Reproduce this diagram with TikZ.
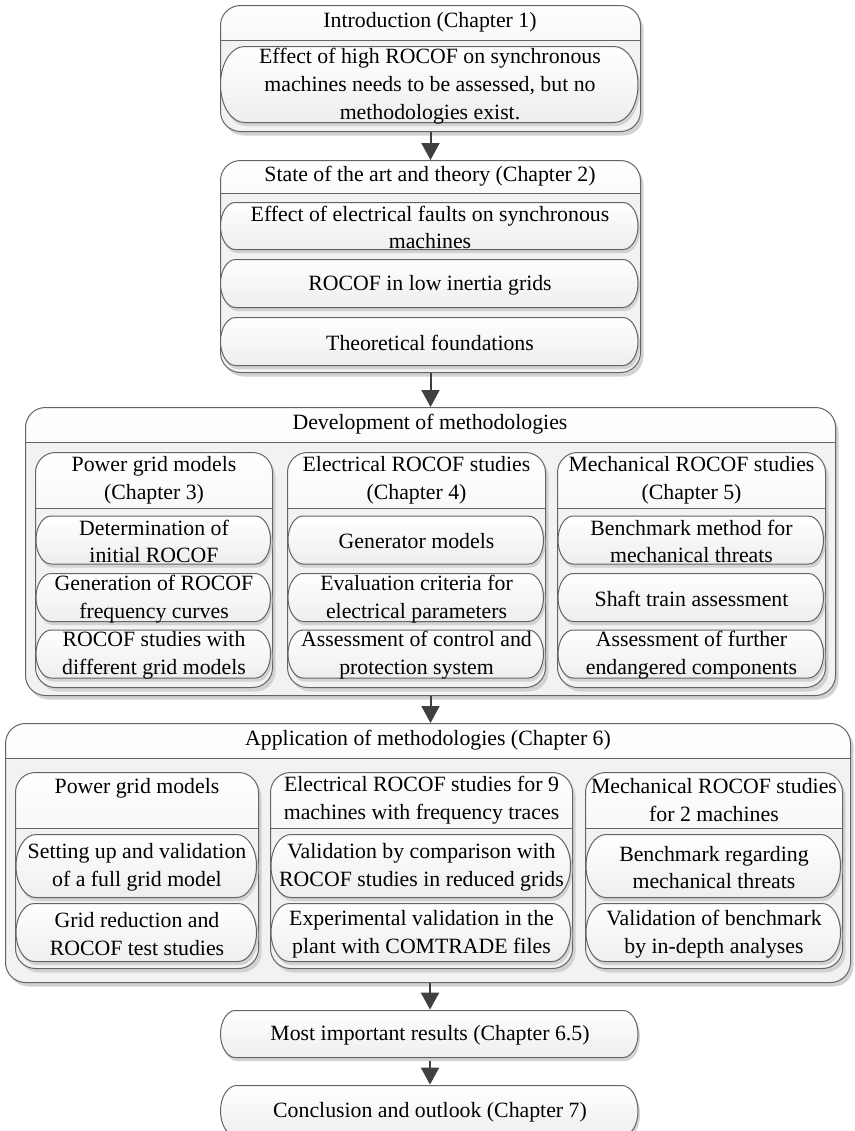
\documentclass[tikz,border=0pt]{standalone}
\usepackage{fontspec}
\setmainfont{Liberation Serif}
\usetikzlibrary{calc}
\usetikzlibrary{arrows.meta, shadows}
\definecolor{linegray}{RGB}{100, 100, 100}
\definecolor{bodygray}{RGB}{242, 242, 242}
\definecolor{bandgray}{RGB}{228, 228, 228}
\definecolor{pillgray}{RGB}{238, 238, 238}
\definecolor{shadowgray}{RGB}{210, 210, 210}
\definecolor{arrowgray}{RGB}{64, 64, 64}

\begin{document}
\begin{tikzpicture}[x=0.5pt, y=-0.5pt]%
        \tikzstyle{every node} = [font=\fontsize{10.9}{13.9}\selectfont]
        \tikzstyle{frame} = [draw=linegray, line width=0.5pt, rounded corners=10pt, fill=bodygray, anchor=north west, inner sep=0pt,
          drop shadow={shadow xshift=1.5pt, shadow yshift=-2pt, fill=shadowgray, opacity=1},
          path picture={\shade[sharp corners, top color=white, bottom color=bandgray] (path picture bounding box.north west) rectangle ([yshift=-#1]path picture bounding box.north east);
            \draw[linegray, line width=0.5pt] ([yshift=-#1]path picture bounding box.north west) -- ([yshift=-#1]path picture bounding box.north east);}]
        \tikzstyle{pill} = [rectangle, inner sep=0pt, align=center,
          path picture={
            \fill[shadowgray] let \p1=(path picture bounding box.south west), \p2=(path picture bounding box.north east),
                \n1={(\y2-\y1-1.5pt)/2}, \n2={0.62*\n1} in
              (\x1+1pt+\n2,\y2-1.5pt) -- (\x2-\n2,\y2-1.5pt) arc[start angle=90, end angle=-90, x radius=\n2, y radius=\n1]
              -- (\x1+1pt+\n2,\y1) arc[start angle=270, end angle=90, x radius=\n2, y radius=\n1] -- cycle;
            \draw[linegray, line width=0.5pt, top color=white, bottom color=pillgray] let \p1=(path picture bounding box.south west), \p2=(path picture bounding box.north east),
                \n1={(\y2-\y1-1.5pt)/2}, \n2={0.62*\n1} in
              (\x1+\n2+0.25pt,\y2-0.25pt) -- (\x2-1pt-\n2,\y2-0.25pt) arc[start angle=90, end angle=-90, x radius=\n2, y radius=\n1-0.25pt]
              -- (\x1+\n2+0.25pt,\y1+1.5pt+0.25pt) arc[start angle=270, end angle=90, x radius=\n2, y radius=\n1-0.25pt] -- cycle;}]
        \tikzstyle{flow} = [-{Triangle[length=8.5pt, width=9pt]}, arrowgray, line width=1pt]

        \useasboundingbox (0,0) rectangle (855,1131);

        \node[frame=17.5pt, minimum width=210pt, minimum height=63pt] (intro) at (220,5) {};
        \node (introhead) at (430,22.5) {Introduction (Chapter 1)};
        \node[pill, minimum width=210pt, minimum height=40pt] (intro1) at (430,86) {Effect of high ROCOF on synchronous\\machines needs to be assessed, but no\\methodologies exist.};

        \node[frame=16.5pt, minimum width=210pt, minimum height=106pt] (theory) at (220,160) {};
        \node (theoryhead) at (430,176.5) {State of the art and theory (Chapter 2)};
        \foreach \y/\h/\txt [count=\i] in {227.5/25.5pt/{Effect of electrical faults on synchronous\\machines}, 285/26pt/{ROCOF in low inertia grids}, 343/26pt/{Theoretical foundations}}
          \node[pill, minimum width=210pt, minimum height=\h] (theory\i) at (430,\y) {\txt};

        \node[frame=17.5pt, minimum width=405pt, minimum height=144pt] (devel) at (25,407) {};
        \node (develhead) at (430,424.5) {Development of methodologies};
        \foreach \x/\w/\txt [count=\i] in {35/118.5pt/{Power grid models\\(Chapter 3)}, 287/129pt/{Electrical ROCOF studies\\(Chapter 4)}, 557/134pt/{Mechanical ROCOF studies\\(Chapter 5)}}{
          \node[frame=28pt, minimum width=\w, minimum height=117.5pt] (devcol\i) at (\x,452) {};
          \node[align=center] (devhead\i) at ($(devcol\i.north)+(0,28)$) {\txt};
        }
        \foreach \y/\txt [count=\j] in {89.5/{Determination of\\initial ROCOF}, 147/{Generation of ROCOF\\frequency curves}, 203.5/{ROCOF studies with\\different grid models}}
          \node[pill, minimum width=118.5pt, minimum height=26pt] (devA\j) at ($(devcol1.north)+(0,\y)$) {\txt};
        \foreach \y/\txt [count=\j] in {89.5/{Generator models}, 147/{Evaluation criteria for\\electrical parameters}, 203.5/{Assessment of control and\\protection system}}
          \node[pill, minimum width=129pt, minimum height=26pt] (devB\j) at ($(devcol2.north)+(0,\y)$) {\txt};
        \foreach \y/\txt [count=\j] in {89.5/{Benchmark method for\\mechanical threats}, 147/{Shaft train assessment}, 203.5/{Assessment of further\\endangered components}}
          \node[pill, minimum width=134pt, minimum height=26pt] (devC\j) at ($(devcol3.north)+(0,\y)$) {\txt};

        \node[frame=17.5pt, minimum width=422.5pt, minimum height=129.5pt] (appl) at (5,723) {};
        \node (applhead) at (428,740.5) {Application of methodologies (Chapter 6)};
        \foreach \x/\w/\dy/\txt [count=\i] in {15/121.5pt/16/{Power grid models}, 270/151pt/28/{Electrical ROCOF studies for 9\\machines with frequency traces}, 585/128.5pt/28/{Mechanical ROCOF studies\\for 2 machines}}{
          \node[frame=28pt, minimum width=\w, minimum height=98pt] (appcol\i) at (\x,772) {};
          \node[align=center] (apphead\i) at ($(appcol\i.north)+(0,\dy)$) {\txt};
        }
        \foreach \y/\h/\txt [count=\j] in {95.5/33.5pt/{Setting up and validation\\of a full grid model}, 162/31pt/{Grid reduction and\\ROCOF test studies}}
          \node[pill, minimum width=121.5pt, minimum height=\h] (appA\j) at ($(appcol1.north)+(0,\y)$) {\txt};
        \foreach \y/\h/\txt [count=\j] in {95.5/33.5pt/{Validation by comparison with\\ROCOF studies in reduced grids}, 162/31pt/{Experimental validation in the\\plant with COMTRADE files}}
          \node[pill, minimum width=151pt, minimum height=\h] (appB\j) at ($(appcol2.north)+(0,\y)$) {\txt};
        \foreach \y/\h/\txt [count=\j] in {95.5/33.5pt/{Benchmark regarding\\mechanical threats}, 162/31pt/{Validation of benchmark\\by in-depth analyses}}
          \node[pill, minimum width=128.5pt, minimum height=\h] (appC\j) at ($(appcol3.north)+(0,\y)$) {\txt};

        \node[pill, minimum width=210pt, minimum height=25.5pt] (results) at (430,1035.5) {Most important results (Chapter 6.5)};
        \node[pill, minimum width=210pt, minimum height=27.5pt] (outlook) at (430,1112.5) {Conclusion and outlook (Chapter 7)};

        \draw[flow] (intro.south) -- (theory.north);
        \draw[flow] (theory.south) -- (devel.north);
        \draw[flow] (devel.south) -- (devel.south |- appl.north);
        \draw[flow] (appl.south -| results.north) -- (results.north);
        \draw[flow] (results.south) -- (outlook.north);
      \end{tikzpicture}
\end{document}
